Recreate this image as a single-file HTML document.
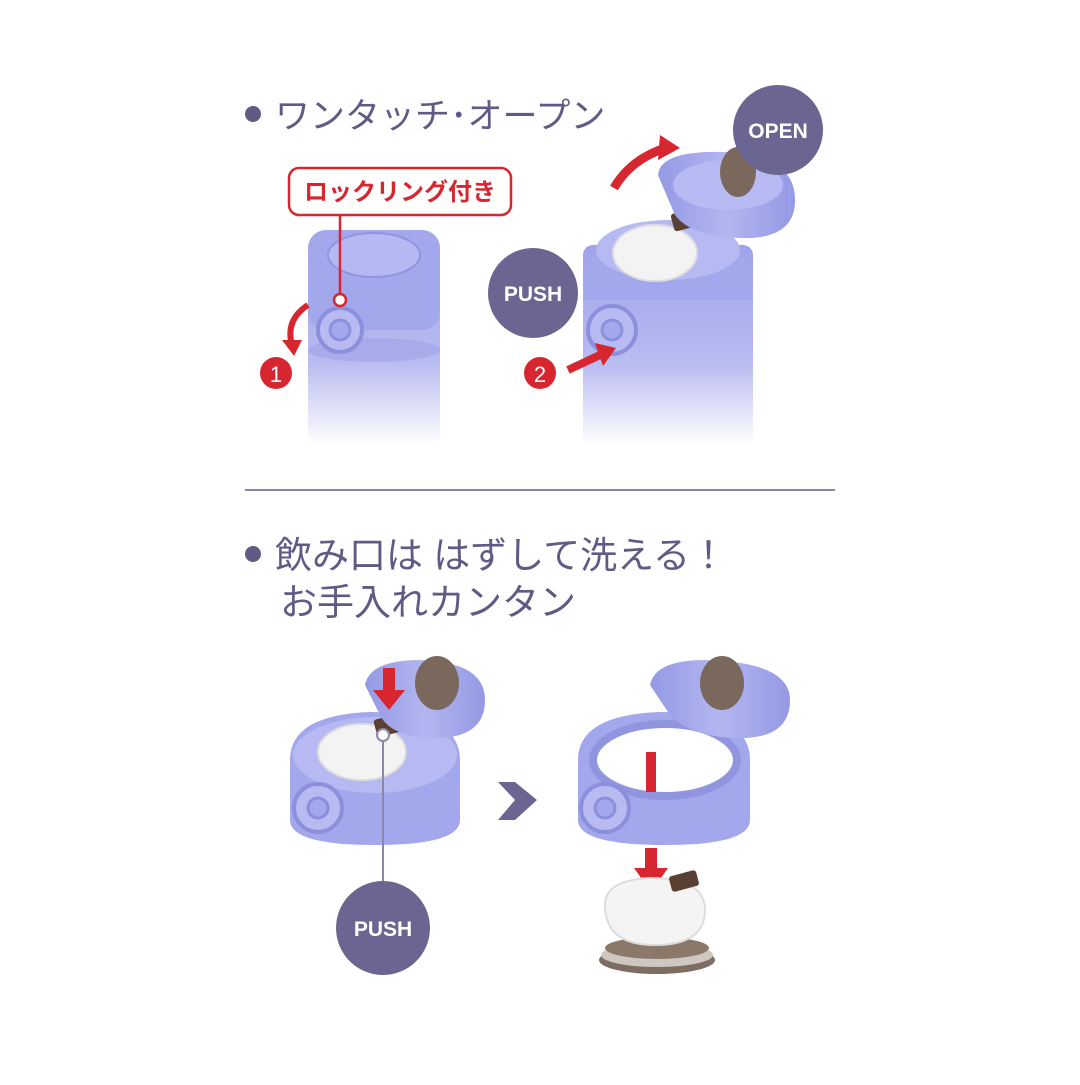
<!DOCTYPE html>
<html><head><meta charset="utf-8">
<style>
html,body{margin:0;padding:0;background:#fff;}
body{width:1080px;height:1080px;overflow:hidden;}
text{font-family:"Liberation Sans","Noto Sans CJK JP",sans-serif;}
</style></head>
<body>
<svg width="1080" height="1080" viewBox="0 0 1080 1080" xmlns="http://www.w3.org/2000/svg">
<defs>
<linearGradient id="bot" x1="0" y1="0" x2="0" y2="1">
<stop offset="0" stop-color="#9ea2ea"/><stop offset="0.6" stop-color="#b9bcf0"/><stop offset="1" stop-color="#ffffff"/>
</linearGradient>
<linearGradient id="lid" x1="0" y1="0" x2="1" y2="0">
<stop offset="0" stop-color="#9499e4"/><stop offset="0.5" stop-color="#b3b6f0"/><stop offset="1" stop-color="#9499e4"/>
</linearGradient>
</defs>

<circle cx="253" cy="114" r="8" fill="#5f5b85"/>
<text x="275" y="128" font-size="35" fill="#5f5b85">ワンタッチ･オープン</text>

<rect x="308" y="240" width="132" height="205" rx="10" fill="url(#bot)"/>
<rect x="308" y="230" width="132" height="100" rx="18" fill="#a3a7ec"/>
<ellipse cx="374" cy="255" rx="46" ry="22" fill="#b5b8f2" stroke="#9195e0" stroke-width="2"/>
<ellipse cx="374" cy="350" rx="66" ry="12" fill="#9ea2e6" opacity="0.6"/>
<circle cx="340" cy="330" r="22" fill="#b8bbf2" stroke="#8c90dc" stroke-width="4"/>
<circle cx="340" cy="330" r="10" fill="#a3a7ec" stroke="#8c90dc" stroke-width="3"/>
<rect x="289" y="168" width="222" height="47" rx="10" fill="#fff" stroke="#d7262f" stroke-width="2.5"/>
<text x="400" y="200" font-size="24" font-weight="bold" fill="#d7262f" text-anchor="middle">ロックリング付き</text>
<line x1="340" y1="215" x2="340" y2="295" stroke="#d7262f" stroke-width="2.5"/>
<circle cx="340" cy="300" r="6" fill="#fff" stroke="#d7262f" stroke-width="2.5"/>
<path d="M308 305 Q285 320 292 345" fill="none" stroke="#d7262f" stroke-width="6"/>
<polygon points="282,340 302,340 294,356" fill="#d7262f"/>
<circle cx="276" cy="373" r="16" fill="#d7262f"/>
<text x="276" y="382" font-size="22" fill="#fff" text-anchor="middle">1</text>

<rect x="583" y="245" width="170" height="200" rx="10" fill="url(#bot)"/>
<path d="M583 300 Q583 225 668 225 Q752 225 752 300 Z" fill="#a3a7ec"/>
<ellipse cx="668" cy="250" rx="72" ry="30" fill="#b6b9f2"/>
<ellipse cx="655" cy="253" rx="42" ry="28" fill="#f3f3f3" stroke="#ddd" stroke-width="2"/>
<rect x="672" y="210" width="32" height="18" rx="3" fill="#5a3f33" transform="rotate(-15 688 219)"/>
<path d="M658 175 Q660 150 725 152 Q795 155 795 200 Q795 240 740 238 Q690 236 675 215 Z" fill="url(#lid)"/>
<ellipse cx="728" cy="185" rx="55" ry="25" fill="#b7baf3"/>
<ellipse cx="738" cy="172" rx="18" ry="25" fill="#7a685c"/>
<circle cx="612" cy="330" r="24" fill="#b8bbf2" stroke="#8c90dc" stroke-width="4"/>
<circle cx="612" cy="330" r="10" fill="#a3a7ec" stroke="#8c90dc" stroke-width="3"/>
<path d="M614 188 Q630 160 665 148" fill="none" stroke="#d7262f" stroke-width="9"/>
<polygon points="660,135 680,148 658,160" fill="#d7262f"/>
<line x1="568" y1="370" x2="600" y2="355" stroke="#d7262f" stroke-width="8"/>
<polygon points="595,343 616,348 603,366" fill="#d7262f"/>
<circle cx="540" cy="373" r="16" fill="#d7262f"/>
<text x="540" y="382" font-size="22" fill="#fff" text-anchor="middle">2</text>
<circle cx="533" cy="293" r="45" fill="#6b6591"/>
<text x="533" y="301" font-size="21" font-weight="bold" fill="#fff" text-anchor="middle">PUSH</text>
<circle cx="778" cy="130" r="45" fill="#6b6591"/>
<text x="778" y="138" font-size="21" font-weight="bold" fill="#fff" text-anchor="middle">OPEN</text>

<line x1="245" y1="490" x2="835" y2="490" stroke="#8a88aa" stroke-width="2"/>

<circle cx="253" cy="554" r="8" fill="#5f5b85"/>
<text x="275" y="568" font-size="37" fill="#5f5b85">飲み口は はずして洗える！</text>
<text x="280" y="615" font-size="37" fill="#5f5b85">お手入れカンタン</text>

<path d="M290 760 Q290 715 370 712 Q460 712 460 760 L460 820 Q460 845 375 845 Q290 845 290 820 Z" fill="#a3a7ec"/>
<ellipse cx="375" cy="755" rx="82" ry="38" fill="#b6b9f2"/>
<ellipse cx="362" cy="752" rx="44" ry="28" fill="#f3f3f3" stroke="#ddd" stroke-width="2"/>
<rect x="375" y="716" width="30" height="18" rx="3" fill="#5a3f33" transform="rotate(-15 390 725)"/>
<path d="M365 685 Q370 660 420 660 Q485 662 485 700 Q485 740 430 738 Q390 736 380 715 Z" fill="url(#lid)"/>
<ellipse cx="437" cy="683" rx="22" ry="27" fill="#7a685c"/>
<circle cx="318" cy="808" r="24" fill="#b8bbf2" stroke="#8c90dc" stroke-width="4"/>
<circle cx="318" cy="808" r="10" fill="#a3a7ec" stroke="#8c90dc" stroke-width="3"/>
<rect x="383" y="668" width="12" height="25" fill="#d7262f"/>
<polygon points="373,690 405,690 389,710" fill="#d7262f"/>
<line x1="383" y1="735" x2="383" y2="882" stroke="#8a88aa" stroke-width="2"/>
<circle cx="383" cy="735" r="6" fill="#fff" stroke="#8a88aa" stroke-width="2"/>
<circle cx="383" cy="928" r="47" fill="#6b6591"/>
<text x="383" y="936" font-size="21" font-weight="bold" fill="#fff" text-anchor="middle">PUSH</text>

<polygon points="498,782 515,782 537,800 515,820 498,820 515,800" fill="#6b6591"/>

<path d="M578 760 Q578 715 660 712 Q750 712 750 760 L750 820 Q750 845 665 845 Q578 845 578 820 Z" fill="#a3a7ec"/>
<ellipse cx="665" cy="760" rx="72" ry="36" fill="#ffffff" stroke="#9195e0" stroke-width="8"/>
<path d="M650 685 Q655 660 705 660 Q790 662 790 700 Q790 740 735 738 Q690 736 670 715 Z" fill="url(#lid)"/>
<ellipse cx="722" cy="683" rx="22" ry="27" fill="#7a685c"/>
<circle cx="605" cy="808" r="24" fill="#b8bbf2" stroke="#8c90dc" stroke-width="4"/>
<circle cx="605" cy="808" r="10" fill="#a3a7ec" stroke="#8c90dc" stroke-width="3"/>
<rect x="646" y="752" width="10" height="40" fill="#d7262f"/>
<rect x="645" y="848" width="12" height="24" fill="#d7262f"/>
<polygon points="634,868 668,868 651,892" fill="#d7262f"/>
<ellipse cx="657" cy="960" rx="58" ry="14" fill="#7e6d62"/>
<ellipse cx="657" cy="955" rx="56" ry="12" fill="#cfc8c0"/>
<ellipse cx="657" cy="948" rx="52" ry="11" fill="#8a786b"/>
<path d="M605 905 Q605 880 650 878 Q705 878 705 910 Q705 945 655 945 Q605 945 605 905 Z" fill="#f4f4f4" stroke="#ddd" stroke-width="2"/>
<rect x="670" y="873" width="28" height="16" rx="3" fill="#5a3f33" transform="rotate(-15 684 881)"/>
</svg>
</body></html>
